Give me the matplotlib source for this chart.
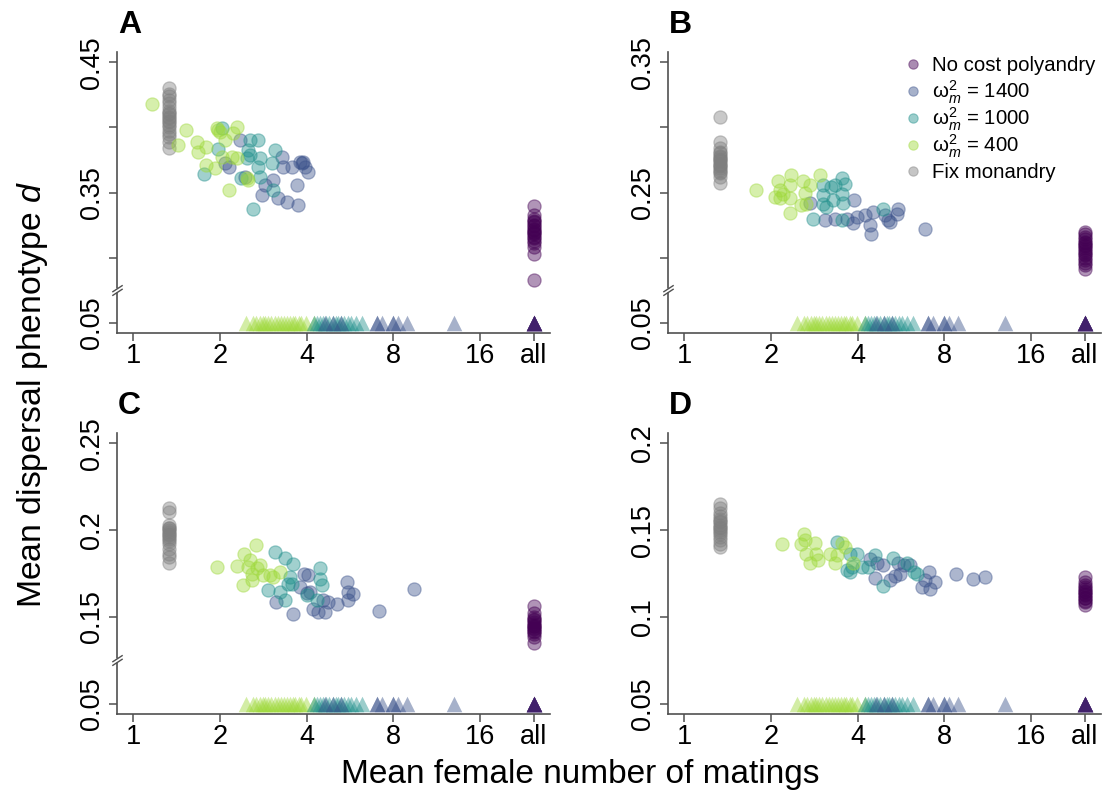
import numpy as np
import matplotlib
matplotlib.use("Agg")
import matplotlib.pyplot as plt
import matplotlib.transforms as mtransforms
from matplotlib.path import Path

plt.rcParams['font.family'] = ['Liberation Sans', 'DejaVu Sans']
plt.rcParams['mathtext.fontset'] = 'custom'
plt.rcParams['mathtext.rm'] = 'Liberation Sans'
plt.rcParams['mathtext.it'] = 'Liberation Sans:italic'

# ---------------- data ----------------
ALL_X = 24.6          # position of the "all" category on the log2 axis
MONO_X = 1.33         # position of fixed monandry points
xtick_vals = [1, 2, 4, 8, 16, ALL_X]
xtick_labels = ['1', '2', '4', '8', '16', 'all']

# Panel A
A_mono_y = [0.430, 0.426, 0.424, 0.421, 0.419, 0.416, 0.413, 0.411, 0.410, 0.408,
            0.407, 0.405, 0.404, 0.402, 0.400, 0.397, 0.395, 0.393, 0.389, 0.384]
A_nocost_y = [0.340, 0.333, 0.330, 0.328, 0.327, 0.325, 0.324, 0.322, 0.321, 0.320,
              0.319, 0.318, 0.316, 0.315, 0.313, 0.311, 0.308, 0.303, 0.283]
A_w400_x = [1.167, 1.524, 1.433, 1.660, 1.682, 1.798, 1.788, 1.921, 1.948, 2.000,
            2.082, 2.027, 2.196, 2.285, 2.225, 2.285, 2.155, 2.476, 2.509, 1.974]
A_w400_y = [0.4177, 0.3979, 0.3864, 0.3890, 0.3813, 0.3846, 0.3710, 0.3685, 0.3992, 0.3967,
            0.3903, 0.3774, 0.3774, 0.4005, 0.3954, 0.3762, 0.3523, 0.3608, 0.3595, 0.3979]
A_w1000_x = [1.760, 1.974, 2.542, 2.718, 2.509, 2.542, 2.476, 2.754, 2.718, 2.754,
             3.105, 3.023, 3.063, 2.611, 2.378, 2.027]
A_w1000_y = [0.3641, 0.3838, 0.3903, 0.3903, 0.3826, 0.3787, 0.3762, 0.3762, 0.3697, 0.3621,
             0.3826, 0.3723, 0.3518, 0.3377, 0.3608, 0.3992]
A_w1400_x = [2.347, 2.082, 2.155, 2.442, 2.866, 2.791, 3.063, 3.189, 3.276, 3.320,
             3.409, 3.548, 3.693, 3.743, 3.792, 3.843, 3.947, 4.053, 3.895]
A_w1400_y = [0.3903, 0.3723, 0.3697, 0.3621, 0.3556, 0.3479, 0.3595, 0.3454, 0.3774, 0.3697,
             0.3428, 0.3697, 0.3556, 0.3403, 0.3736, 0.3723, 0.3697, 0.3659, 0.3736]

# Panel B
B_mono_y = [0.308, 0.289, 0.284, 0.281, 0.280, 0.278, 0.277, 0.276, 0.275, 0.274,
            0.272, 0.271, 0.270, 0.269, 0.267, 0.266, 0.265, 0.262, 0.257]
B_nocost_y = [0.220, 0.218, 0.216, 0.214, 0.212, 0.211, 0.210, 0.209, 0.207, 0.206,
              0.204, 0.203, 0.202, 0.200, 0.198, 0.196, 0.194, 0.191]
B_w400_x = [1.778, 2.116, 2.060, 2.144, 2.202, 2.323, 2.355, 2.323, 2.323, 2.586,
            2.621, 2.656, 2.728, 2.957, 2.551, 2.144]
B_w400_y = [0.2523, 0.2590, 0.2467, 0.2518, 0.2492, 0.2556, 0.2633, 0.2454, 0.2344, 0.2590,
            0.2497, 0.2415, 0.2556, 0.2633, 0.2403, 0.2454]
B_w1000_x = [3.036, 3.246, 3.334, 3.518, 3.613, 3.036, 3.290, 3.518, 3.565, 2.802,
             3.119, 3.518, 4.915, 3.036]
B_w1000_y = [0.2556, 0.2544, 0.2556, 0.2608, 0.2564, 0.2479, 0.2441, 0.2492, 0.2421, 0.2300,
             0.2390, 0.2287, 0.2377, 0.2415]
B_w1400_x = [2.728, 3.077, 3.334, 3.662, 3.864, 3.885, 3.967, 4.242, 4.417, 4.441,
             4.535, 4.982, 5.117, 5.187, 5.545, 5.472, 6.868]
B_w1400_y = [0.2421, 0.2287, 0.2300, 0.2300, 0.2262, 0.2446, 0.2313, 0.2326, 0.2249, 0.2179,
             0.2351, 0.2326, 0.2287, 0.2274, 0.2377, 0.2338, 0.2223]

# Panel C
C_mono_y = [0.2125, 0.2106, 0.2030, 0.2015, 0.2010, 0.2000, 0.1990, 0.1980, 0.1970, 0.1960,
            0.1950, 0.1940, 0.1920, 0.1890, 0.1865, 0.1846, 0.1810]
C_nocost_y = [0.1560, 0.1520, 0.1500, 0.1490, 0.1480, 0.1470, 0.1460, 0.1450, 0.1445, 0.1435,
              0.1430, 0.1420, 0.1413, 0.1400, 0.1385, 0.1350]
C_w400_x = [1.958, 2.285, 2.423, 2.410, 2.542, 2.576, 2.667, 2.682, 2.754, 2.576,
            2.828, 2.983, 3.063, 3.232, 2.509]
C_w400_y = [0.1788, 0.1794, 0.1862, 0.1683, 0.1827, 0.1712, 0.1913, 0.1779, 0.1798, 0.1750,
            0.1740, 0.1740, 0.1731, 0.1760, 0.1788]
C_w1000_x = [3.105, 3.364, 3.576, 2.944, 3.232, 3.364, 3.500, 3.454, 4.451, 4.451,
             4.510, 4.000, 4.333, 3.548]
C_w1000_y = [0.1875, 0.1837, 0.1804, 0.1654, 0.1644, 0.1596, 0.1731, 0.1692, 0.1779, 0.1721,
             0.1683, 0.1625, 0.1600, 0.1688]
C_w1400_x = [3.122, 3.576, 3.792, 3.915, 4.053, 4.000, 4.219, 4.391, 4.570, 4.633,
             4.757, 5.112, 5.509, 5.583, 5.809, 5.583, 7.134, 9.463, 4.107]
C_w1400_y = [0.1587, 0.1519, 0.1673, 0.1750, 0.1740, 0.1635, 0.1548, 0.1529, 0.1596, 0.1529,
             0.1587, 0.1573, 0.1702, 0.1644, 0.1631, 0.1600, 0.1533, 0.1658, 0.1644]

# Panel D
D_mono_y = [0.1650, 0.1625, 0.1596, 0.1580, 0.1567, 0.1550, 0.1548, 0.1530, 0.1520, 0.1510,
            0.1500, 0.1490, 0.1480, 0.1462, 0.1442, 0.1419, 0.1404]
D_nocost_y = [0.1231, 0.1202, 0.1183, 0.1170, 0.1163, 0.1150, 0.1144, 0.1130, 0.1125, 0.1110,
              0.1106, 0.1090, 0.1087, 0.1067]
D_w400_x = [2.185, 2.551, 2.600, 2.621, 2.656, 2.728, 2.840, 2.878, 2.917, 3.204,
            3.334, 3.380, 3.518, 3.613, 3.864]
D_w400_y = [0.1419, 0.1419, 0.1477, 0.1446, 0.1365, 0.1312, 0.1423, 0.1362, 0.1327, 0.1362,
            0.1308, 0.1356, 0.1427, 0.1404, 0.1308]
D_w1000_x = [3.398, 3.662, 3.762, 3.813, 3.967, 4.130, 4.358, 4.598, 4.915, 5.327,
             5.929, 6.423, 6.255, 3.762]
D_w1000_y = [0.1433, 0.1269, 0.1260, 0.1288, 0.1362, 0.1288, 0.1288, 0.1356, 0.1177, 0.1337,
             0.1308, 0.1250, 0.1260, 0.1365]
D_w1400_x = [4.417, 4.660, 4.915, 4.598, 5.187, 5.398, 5.545, 5.772, 6.089, 6.686,
             6.868, 7.055, 7.112, 7.442, 8.808, 10.07, 11.06, 5.619]
D_w1400_y = [0.1331, 0.1312, 0.1298, 0.1225, 0.1215, 0.1235, 0.1308, 0.1298, 0.1298, 0.1173,
             0.1212, 0.1260, 0.1163, 0.1202, 0.1246, 0.1221, 0.1231, 0.1250]

# Triangles at d = 0.05 (same in all panels)
TRI_Y = 0.05
tri_w400_x = [2.47, 2.60, 2.68, 2.75, 2.82, 2.88, 2.95, 3.02, 3.10, 3.18, 3.26, 3.34,
              3.42, 3.50, 3.58, 3.66, 3.75, 3.84, 3.99, 4.26]
tri_w1000_x = [4.26, 4.36, 4.46, 4.56, 4.68, 4.80, 4.92, 5.04, 5.16, 5.28, 5.40, 5.55,
               5.72, 5.95, 6.25]
tri_w1400_x = [4.62, 4.95, 5.25, 7.04, 7.04, 7.33, 8.00, 8.00, 8.32, 8.94, 13.0]
tri_nocost_x = [ALL_X] * 6

# y-axis tick setup per panel
A_yticks = [0.05, 0.30, 0.35, 0.40, 0.45]
A_ylabels = ['0.05', '', '0.35', '', '0.45']
B_yticks = [0.05, 0.20, 0.25, 0.30, 0.35]
B_ylabels = ['0.05', '', '0.25', '', '0.35']
C_yticks = [0.05, 0.15, 0.20, 0.25]
C_ylabels = ['0.05', '0.15', '0.2', '0.25']
D_yticks = [0.05, 0.10, 0.15, 0.20]
D_ylabels = ['0.05', '0.1', '0.15', '0.2']

# colours
COL_NOCOST = '#440154'
COL_1400 = '#3B528B'
COL_1000 = '#21908C'
COL_400 = '#9ED93A'
COL_MONO = '#7F7F7F'
COL_TRI_ALL = '#3F1E6A'
ALPHA = 0.42

# ---------------- figure ----------------
W, H = 1102, 794
fig = plt.figure(figsize=(W / 100, H / 100), dpi=100)


def px_axes(left, top, right, bottom):
    return fig.add_axes([left / W, 1 - bottom / H, (right - left) / W, (bottom - top) / H])


def make_scale(knots_data, knots_plot):
    kd = np.array(knots_data, float)
    kp = np.array(knots_plot, float)
    fwd = lambda v: np.interp(v, kd, kp)
    inv = lambda v: np.interp(v, kp, kd)
    return fwd, inv


panels = [
    dict(label='A', box=(117, 52, 550, 333),
         mono=A_mono_y, nocost=A_nocost_y,
         g400=(A_w400_x, A_w400_y), g1000=(A_w1000_x, A_w1000_y), g1400=(A_w1400_x, A_w1400_y),
         scale=([-1, 0.0625, 0.275, 2], [-0.8, 0.2625, 0.275, 2]), ylim=(0.042, 0.458),
         brk=0.2746, yt=A_yticks, yl=A_ylabels),
    dict(label='B', box=(668, 52, 1101, 333),
         mono=B_mono_y, nocost=B_nocost_y,
         g400=(B_w400_x, B_w400_y), g1000=(B_w1000_x, B_w1000_y), g1400=(B_w1400_x, B_w1400_y),
         scale=([-1, 0.0625, 0.175, 2], [-0.9, 0.1625, 0.175, 2]), ylim=(0.042, 0.358),
         brk=0.1746, yt=B_yticks, yl=B_ylabels),
    dict(label='C', box=(117, 433, 550, 714),
         mono=C_mono_y, nocost=C_nocost_y,
         g400=(C_w400_x, C_w400_y), g1000=(C_w1000_x, C_w1000_y), g1400=(C_w1400_x, C_w1400_y),
         scale=([-1, 0.0625, 0.125, 2], [-0.95, 0.1125, 0.125, 2]), ylim=(0.044, 0.256),
         brk=0.125, yt=C_yticks, yl=C_ylabels),
    dict(label='D', box=(668, 433, 1101, 714),
         mono=D_mono_y, nocost=D_nocost_y,
         g400=(D_w400_x, D_w400_y), g1000=(D_w1000_x, D_w1000_y), g1400=(D_w1400_x, D_w1400_y),
         scale=None, ylim=(0.044, 0.206),
         brk=None, yt=D_yticks, yl=D_ylabels),
]

SPINE_COL = '#505050'
S_PT = 90
S_TRI = 125

slash_path = Path([(-1, -1), (1, 0.3), (-1, -0.3), (1, 1.0)],
                  [Path.MOVETO, Path.LINETO, Path.MOVETO, Path.LINETO])

axes = {}
for p in panels:
    ax = px_axes(*p['box'])
    axes[p['label']] = ax
    ax.set_xscale('log', base=2)
    if p['scale'] is not None:
        fwd, inv = make_scale(*p['scale'])
        ax.set_yscale('function', functions=(fwd, inv))

    def sc(x, y, c):
        ax.scatter(x, y, s=S_PT, color=c, alpha=ALPHA, edgecolors=c, linewidths=0.9, zorder=3)

    sc([MONO_X] * len(p['mono']), p['mono'], COL_MONO)
    sc([ALL_X] * len(p['nocost']), p['nocost'], COL_NOCOST)
    sc(*p['g1400'], COL_1400)
    sc(*p['g1000'], COL_1000)
    sc(*p['g400'], COL_400)

    # triangles
    ax.scatter(tri_w400_x, [TRI_Y] * len(tri_w400_x), marker='^', s=S_TRI, color=COL_400,
               alpha=0.45, linewidths=0, zorder=3)
    ax.scatter(tri_w1000_x, [TRI_Y] * len(tri_w1000_x), marker='^', s=S_TRI, color=COL_1000,
               alpha=0.45, linewidths=0, zorder=3)
    ax.scatter(tri_w1400_x, [TRI_Y] * len(tri_w1400_x), marker='^', s=S_TRI, color=COL_1400,
               alpha=0.45, linewidths=0, zorder=3)
    ax.scatter(tri_nocost_x, [TRI_Y] * len(tri_nocost_x), marker='^', s=S_TRI, color=COL_TRI_ALL,
               alpha=0.5, linewidths=0, zorder=3)

    ax.set_xlim(2 ** -0.185, 2 ** 4.805)
    ax.set_ylim(*p['ylim'])
    ax.set_xticks(xtick_vals)
    ax.set_xticklabels(xtick_labels)
    ax.xaxis.set_minor_locator(matplotlib.ticker.NullLocator())
    ax.set_yticks(p['yt'])
    ax.set_yticklabels(p['yl'])
    ax.yaxis.set_minor_locator(matplotlib.ticker.NullLocator())

    for s in ['top', 'right']:
        ax.spines[s].set_visible(False)
    for s in ['left', 'bottom']:
        ax.spines[s].set_color(SPINE_COL)
        ax.spines[s].set_linewidth(1.2)
    ax.tick_params(axis='both', direction='out', length=5.5, width=1.1, color=SPINE_COL,
                   labelsize=19.5, labelcolor='black')
    ax.tick_params(axis='x', pad=1.5)
    ax.tick_params(axis='y', pad=3.5)
    for t in ax.get_yticklabels():
        t.set_rotation(90)
        t.set_va('center')

    if p['brk'] is not None:
        tr = mtransforms.blended_transform_factory(ax.transAxes, ax.transData)
        ax.plot([0], [p['brk']], marker='|', markersize=3.0, mew=3.5, color='white',
                transform=tr, clip_on=False, zorder=5)
        ax.plot([0], [p['brk']], marker=slash_path, markersize=7.5, mew=1.0, color=SPINE_COL,
                transform=tr, clip_on=False, zorder=6)

    l, t, r, b = p['box']
    fig.text((l + 1) / W, 1 - (t - 19) / H, p['label'], fontsize=23, fontweight='bold',
             ha='left', va='baseline')

# legend (drawn in panel B)
axB = axes['B']
leg_labels = ['No cost polyandry', r'$\mathrm{\omega}_m^2$ = 1400', r'$\mathrm{\omega}_m^2$ = 1000',
              r'$\mathrm{\omega}_m^2$ = 400', 'Fix monandry']
leg_cols = [COL_NOCOST, COL_1400, COL_1000, COL_400, COL_MONO]
leg_rows_px = [64, 91, 118, 145, 171]
Bl, Bt, Br, Bb = panels[1]['box']
for lab, col, ypx in zip(leg_labels, leg_cols, leg_rows_px):
    xa = (913 - Bl) / (Br - Bl)
    ya = (Bb - ypx) / (Bb - Bt)
    axB.scatter([xa], [ya], s=45, color=col, alpha=0.45, edgecolors=col, linewidths=0.8,
                transform=axB.transAxes, clip_on=False, zorder=6)
    yb = (Bb - (ypx + 7)) / (Bb - Bt)
    axB.text((932 - Bl) / (Br - Bl), yb, lab, transform=axB.transAxes, fontsize=14.7,
             ha='left', va='baseline', zorder=6)

fig.text(33 / W, 1 - 395 / H, r'Mean dispersal phenotype $d$', rotation=90, fontsize=24.3,
         ha='center', va='center')
fig.text(580 / W, 1 - 783 / H, 'Mean female number of matings', fontsize=24,
         ha='center', va='baseline')

fig.savefig('out.png', dpi=100)
